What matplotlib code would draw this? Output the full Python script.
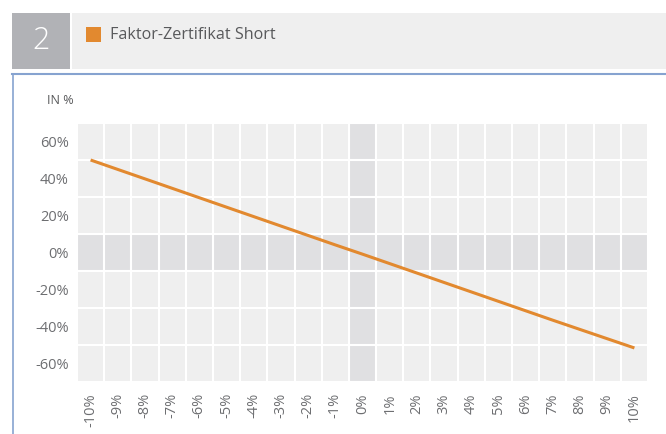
import numpy as np
import matplotlib.pyplot as plt
from matplotlib.patches import Rectangle

# underlying move (category labels) and certificate performance in %
x_labels = ["-10%", "-9%", "-8%", "-7%", "-6%", "-5%", "-4%", "-3%", "-2%", "-1%", "0%",
            "1%", "2%", "3%", "4%", "5%", "6%", "7%", "8%", "9%", "10%"]
perf = [50.0, 44.9, 39.8, 34.7, 29.6, 24.5, 19.4, 14.3, 9.2, 4.1, -0.9,
        -6.0, -11.1, -16.2, -21.3, -26.4, -31.5, -36.6, -41.6, -46.6, -51.6]
y_ticks = [-60, -40, -20, 0, 20, 40, 60]
y_labels = [f"{v}%" for v in y_ticks]

ORANGE = "#e2892f"
GREY_TXT = "#6d6e71"
BLUE = "#86a3d0"

plt.rcParams["font.family"] = ["Open Sans", "DejaVu Sans"]

W, H = 666, 434
fig = plt.figure(figsize=(W / 100, H / 100), dpi=100)

# header: number box + banner
fig.patches.append(Rectangle((12 / W, 1 - 69 / H), 58 / W, 56 / H,
                             transform=fig.transFigure, color="#b1b2b6", lw=0))
fig.patches.append(Rectangle((72 / W, 1 - 69 / H), (W - 72) / W, 56 / H,
                             transform=fig.transFigure, color="#efefef", lw=0))
fig.text(41 / W, 1 - 41 / H, "2", color="white", fontsize=22, fontweight="light",
         ha="center", va="center")
fig.patches.append(Rectangle((86 / W, 1 - 42 / H), 15 / W, 15 / H,
                             transform=fig.transFigure, color=ORANGE, lw=0))
fig.text(110 / W, 1 - 35 / H, "Faktor-Zertifikat Short", color="#58595b",
         fontsize=11.6, ha="left", va="center")

# blue frame
fig.add_artist(plt.Line2D([12 / W, 1], [1 - 74 / H, 1 - 74 / H],
                          transform=fig.transFigure, color=BLUE, lw=1.5))
fig.add_artist(plt.Line2D([12.5 / W, 12.5 / W], [0, 1 - 74 / H],
                          transform=fig.transFigure, color=BLUE, lw=1.2))
fig.text(47 / W, 1 - 101 / H, "IN %", color="#58595b", fontsize=9, ha="left", va="center")

ax = fig.add_axes([77 / W, (H - 382) / H, 571 / W, 259 / H])
n = len(x_labels)
xs = np.arange(n)

ax.set_facecolor("#efefef")
zero_idx = x_labels.index("0%")
ax.axvspan(zero_idx - 0.5, zero_idx + 0.5, color="#e0e0e2", lw=0, zorder=1)
ax.axhspan(-10, 10, color="#e0e0e2", lw=0, zorder=1)

ax.set_xticks(np.arange(n + 1) - 0.5, minor=True)
ax.set_yticks(np.arange(-70, 71, 20), minor=True)
ax.grid(which="minor", color="white", lw=1.5)
ax.grid(which="major", visible=False)
ax.set_axisbelow(False)

ax.plot(xs, perf, color=ORANGE, lw=2.2, zorder=3, solid_capstyle="butt")

ax.set_xlim(-0.5, n - 0.5)
ax.set_ylim(-70, 70)
ax.set_xticks(xs)
ax.set_xticklabels(x_labels, rotation=90, va="top")
ax.set_yticks(y_ticks)
ax.set_yticklabels(y_labels)
ax.tick_params(which="both", length=0, colors=GREY_TXT, labelsize=10.5)
ax.tick_params(axis="x", pad=8)
ax.tick_params(axis="y", pad=6)
for s in ax.spines.values():
    s.set_visible(False)

fig.savefig("out.png", dpi=100)
